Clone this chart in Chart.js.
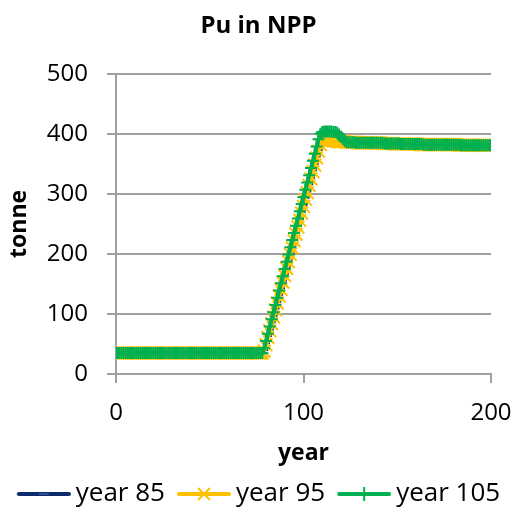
<!DOCTYPE html>
<html>
<head>
<meta charset="utf-8">
<script src="https://cdn.jsdelivr.net/npm/chart.js@4.4.1/dist/chart.umd.min.js"></script>
<style>
  body { margin: 0; background: #fff; }
  canvas { display: block; }
</style>
</head>
<body>
<canvas id="puChart" width="517" height="513"></canvas>
<script>
// years 0..200
const years = [
  0,1,2,3,4,5,6,7,8,9, 10,11,12,13,14,15,16,17,18,19,
  20,21,22,23,24,25,26,27,28,29, 30,31,32,33,34,35,36,37,38,39,
  40,41,42,43,44,45,46,47,48,49, 50,51,52,53,54,55,56,57,58,59,
  60,61,62,63,64,65,66,67,68,69, 70,71,72,73,74,75,76,77,78,79,
  80,81,82,83,84,85,86,87,88,89, 90,91,92,93,94,95,96,97,98,99,
  100,101,102,103,104,105,106,107,108,109, 110,111,112,113,114,115,116,117,118,119,
  120,121,122,123,124,125,126,127,128,129, 130,131,132,133,134,135,136,137,138,139,
  140,141,142,143,144,145,146,147,148,149, 150,151,152,153,154,155,156,157,158,159,
  160,161,162,163,164,165,166,167,168,169, 170,171,172,173,174,175,176,177,178,179,
  180,181,182,183,184,185,186,187,188,189, 190,191,192,193,194,195,196,197,198,199,
  200
];

// tonne
const year85 = [
  35,35,35,35,35,35,35,35,35,35, 35,35,35,35,35,35,35,35,35,35,
  35,35,35,35,35,35,35,35,35,35, 35,35,35,35,35,35,35,35,35,35,
  35,35,35,35,35,35,35,35,35,35, 35,35,35,35,35,35,35,35,35,35,
  35,35,35,35,35,35,35,35,35,35, 35,35,35,35,35,35,35,35,35,41,
  52,64,75,87,98,110,121,133,144,156, 167,179,190,202,213,225,236,248,259,271,
  282,294,305,317,328,340,351,363,374,384, 388,389,389,388,388,388,387,387,387,387,
  387,387,387,387,387,386,386,386,386,386, 386,386,385,385,385,385,385,385,384,384,
  384,384,384,384,384,383,383,383,383,383, 383,383,383,383,383,382,382,382,382,382,
  382,382,382,382,382,382,382,382,382,382, 382,382,382,382,382,381,381,381,381,381,
  381,381,381,381,381,381,381,381,381,381, 381,381,381,381,381,381,381,381,381,381,
  381
];

const year95 = [
  35,35,35,35,35,35,35,35,35,35, 35,35,35,35,35,35,35,35,35,35,
  35,35,35,35,35,35,35,35,35,35, 35,35,35,35,35,35,35,35,35,35,
  35,35,35,35,35,35,35,35,35,35, 35,35,35,35,35,35,35,35,35,35,
  35,35,35,35,35,35,35,35,35,35, 35,35,35,35,35,35,35,35,35,38,
  49,61,72,84,95,107,118,130,141,153, 164,176,187,199,210,222,233,245,256,268,
  279,291,302,314,325,337,348,360,371,382, 390,392,392,391,390,389,388,388,387,387,
  387,387,387,386,386,386,386,386,386,385, 385,385,385,385,385,385,385,385,385,385,
  385,385,384,384,384,384,384,384,384,383, 383,383,383,383,383,383,383,383,383,383,
  383,383,382,382,382,382,382,382,382,382, 382,382,382,382,382,382,382,382,382,382,
  382,382,382,381,381,381,381,381,381,381, 381,381,381,381,381,381,381,381,381,381,
  381
];

const year105 = [
  35,35,35,35,35,35,35,35,35,35, 35,35,35,35,35,35,35,35,35,35,
  35,35,35,35,35,35,35,35,35,35, 35,35,35,35,35,35,35,35,35,35,
  35,35,35,35,35,35,35,35,35,35, 35,35,35,35,35,35,35,35,35,35,
  35,35,35,35,35,35,35,35,35,35, 35,35,35,35,35,35,35,35,35,43,
  55,67,79,91,103,115,127,139,151,163, 175,187,199,211,223,235,247,259,271,283,
  295,307,319,331,343,355,367,379,391,400, 403,404,404,404,404,404,403,403,402,399,
  395,391,388,386,386,386,386,386,385,385, 385,385,385,385,385,385,385,385,385,385,
  385,385,385,384,384,384,384,384,384,384, 384,384,383,383,383,383,383,383,383,383,
  383,383,383,383,382,382,382,382,382,382, 382,382,382,382,382,382,382,382,382,382,
  382,382,382,382,381,381,381,381,381,381, 381,381,381,381,381,381,381,381,381,381,
  381
];

const seriesNames = ["year 85", "year 95", "year 105"];
const yTicks = [0, 100, 200, 300, 400, 500];
const xTicks = [0, 100, 200];

const NAVY = "#0d2a6b";
const GOLD = "#ffc000";
const GREEN = "#00b050";
const GRID = "#a0a0a0";

Chart.defaults.font.family = "'Open Sans', sans-serif";
Chart.defaults.color = "#000";

// little line + marker picture for the legend
function legendIcon(color, marker) {
    let c = document.createElement("canvas");
    c.width = 62;
    c.height = 18;
    let g = c.getContext("2d");
    g.strokeStyle = color;
    g.lineWidth = 4;
    g.lineCap = "round";
    g.beginPath();
    g.moveTo(10, 9);
    g.lineTo(60, 9);
    g.stroke();
    let cx = 35, cy = 9;
    g.lineCap = "butt";
    g.beginPath();
    if (marker === "line") {
        g.strokeStyle = "#3c5da8";
        g.lineWidth = 1.5;
        g.moveTo(cx - 5, cy);
        g.lineTo(cx + 5, cy);
    } else if (marker === "crossRot") {
        g.lineWidth = 2;
        g.moveTo(cx - 6, cy - 6); g.lineTo(cx + 6, cy + 6);
        g.moveTo(cx - 6, cy + 6); g.lineTo(cx + 6, cy - 6);
    } else {
        g.lineWidth = 2;
        g.moveTo(cx, cy - 7); g.lineTo(cx, cy + 7);
    }
    g.stroke();
    return c;
}

const icons = [legendIcon(NAVY, "line"), legendIcon(GOLD, "crossRot"), legendIcon(GREEN, "cross")];

new Chart(document.getElementById("puChart"), {
    type: "line",
    data: {
        labels: years,
        datasets: [
            {
                label: seriesNames[0], data: year85, order: 2,
                borderColor: NAVY, borderWidth: 4,
                pointStyle: "line", pointRadius: 4, pointBorderWidth: 3,
                pointBorderColor: NAVY, pointBackgroundColor: NAVY
            },
            {
                label: seriesNames[1], data: year95, order: 1,
                borderColor: GOLD, borderWidth: 4,
                pointStyle: "crossRot", pointRadius: 9, pointBorderWidth: 2,
                pointBorderColor: GOLD, pointBackgroundColor: GOLD
            },
            {
                label: seriesNames[2], data: year105, order: 0,
                borderColor: GREEN, borderWidth: 4,
                pointStyle: "cross", pointRadius: 6, pointBorderWidth: 2,
                pointBorderColor: GREEN, pointBackgroundColor: GREEN
            }
        ]
    },
    options: {
        responsive: false,
        animation: false,
        devicePixelRatio: 1,
        layout: { padding: { left: 0, right: 0, top: 0, bottom: -4 } },
        elements: { line: { tension: 0 } },
        plugins: {
            tooltip: { enabled: false },
            title: {
                display: true,
                text: "Pu in NPP",
                font: { size: 24, weight: "bold" },
                padding: { top: 12, bottom: 33 }
            },
            legend: {
                position: "bottom",
                labels: {
                    usePointStyle: true,
                    pointStyleWidth: 46,
                    padding: 12,
                    font: { size: 26 },
                    generateLabels: function (chart) {
                        return chart.data.datasets.map((ds, i) => ({
                            text: ds.label,
                            pointStyle: icons[i],
                            fillStyle: "rgba(0,0,0,0)",
                            strokeStyle: "rgba(0,0,0,0)",
                            lineWidth: 0,
                            hidden: false,
                            datasetIndex: i,
                            fontColor: "#000"
                        }));
                    }
                }
            }
        },
        scales: {
            x: {
                type: "linear",
                min: 0,
                max: 200,
                afterFit: function (scale) {
                    scale.height = 95;
                    // plot should end at x=491, whatever the label padding says
                    scale.paddingLeft = 0;
                    scale.paddingRight = 26;
                },
                afterBuildTicks: function (scale) { scale.ticks = xTicks.map(v => ({ value: v })); },
                ticks: { font: { size: 24 }, padding: 16, maxRotation: 0 },
                grid: { drawOnChartArea: false, drawTicks: true, tickLength: 9, color: GRID, lineWidth: 2 },
                border: { display: true, color: GRID, width: 2 },
                title: { display: true, text: "year", font: { size: 23, weight: "bold" }, padding: { top: 0, bottom: 2 } }
            },
            y: {
                min: 0,
                max: 500,
                afterFit: function (scale) { scale.width = 116; },
                afterBuildTicks: function (scale) { scale.ticks = yTicks.map(v => ({ value: v })); },
                ticks: { font: { size: 24 }, padding: 19 },
                grid: { drawTicks: true, tickLength: 9, color: GRID, lineWidth: 2 },
                border: { display: true, color: GRID, width: 2 },
                title: { display: true, text: "tonne", font: { size: 23, weight: "bold" }, padding: { top: 6, bottom: 0 } }
            }
        }
    }
});
</script>
</body>
</html>
